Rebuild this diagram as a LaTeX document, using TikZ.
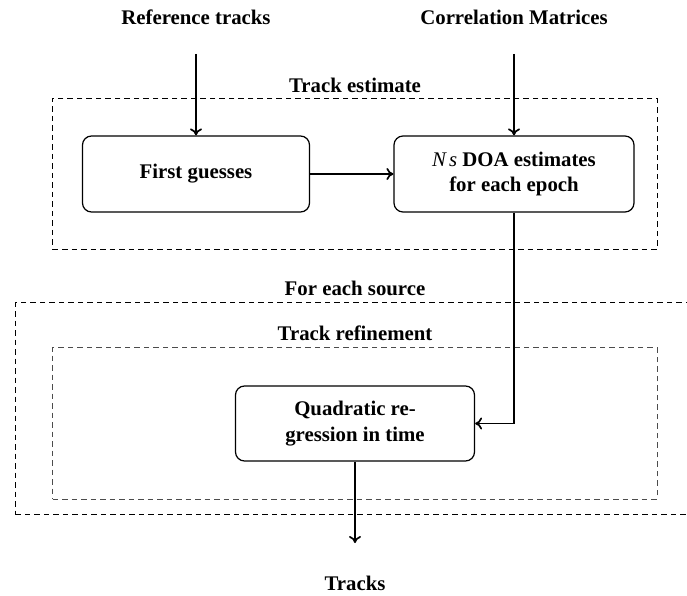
\documentclass[tikz,border=0pt]{standalone}
\usepackage{fontspec}
\setmainfont{Liberation Serif}
\usetikzlibrary{arrows.meta}
\begin{document}
\begin{tikzpicture}[x=1pt,y=-1pt,
  lbl/.style={font=\fontsize{20.8}{26}\selectfont\bfseries, inner sep=0pt, align=center},
  procbox/.style={draw, line width=1.2pt, rounded corners=9pt, align=center,
    font=\fontsize{20.8}{25.5}\selectfont\bfseries},
  arr/.style={-{To[length=7pt,width=12pt]}, line width=1.7pt},
  grp/.style={draw, dashed, dash pattern=on 5.5pt off 4pt, line width=1pt},
  grpgray/.style={grp, draw=black!70}]
\useasboundingbox (0,0) rectangle (687,596);
% group frames
\node[grp, inner sep=0pt, minimum width=604.4pt, minimum height=151pt] (trackest) at (354.8,173.8) {};
\node[grp, inner sep=0pt, minimum width=678.7pt, minimum height=211.3pt] (foreach) at (354.65,408.35) {};
\node[grpgray, inner sep=0pt, minimum width=604.4pt, minimum height=151.3pt] (trackref) at (354.8,423.35) {};
% group titles
\node[lbl] (trackesttitle) at (355,85) {Track estimate};
\node[lbl] (foreachtitle) at (355,288) {For each source};
\node[lbl] (trackreftitle) at (355,333) {Track refinement};
% inputs / outputs
\node[lbl] (ref) at (196,17) {Reference tracks};
\node[lbl] (corr) at (514,17) {Correlation Matrices};
\node[lbl] (tracks) at (355,583) {Tracks};
\coordinate (refout) at (196,54);
\coordinate (corrout) at (514,54);
\coordinate (tracksin) at (355,543);
% process boxes
\node[procbox, minimum width=227pt, minimum height=76pt] (fg) at (196,174) {First guesses};
\node[procbox, minimum width=240pt, minimum height=76pt] (doa) at (514,174)
  {{\mdseries\itshape N\kern3pt s} DOA estimates\\for each epoch};
\node[procbox, minimum width=239pt, minimum height=75pt] (qr) at (355,423.5)
  {Quadratic re-\\gression in time};
% connectors
\draw[arr] (refout) -- (fg.north);
\draw[arr] (corrout) -- (doa.north);
\draw[arr] (fg.east) -- (doa.west);
\draw[arr] (doa.south) |- (qr.east);
\draw[arr] (qr.south) -- (tracksin);
\end{tikzpicture}
\end{document}
